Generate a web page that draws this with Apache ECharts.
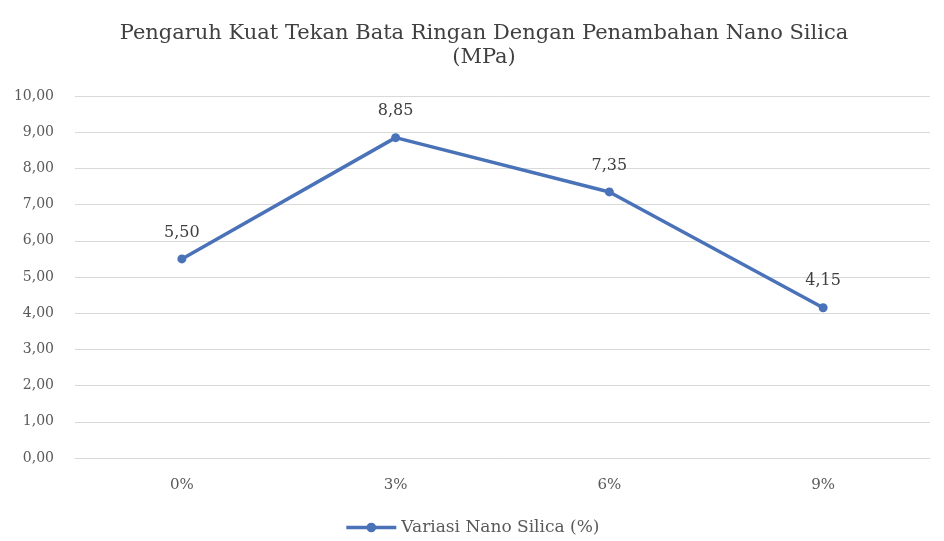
<!DOCTYPE html>
<html><head><meta charset="utf-8">
<script src="https://cdn.jsdelivr.net/npm/echarts@6/dist/echarts.min.js"></script>
<style>html,body{margin:0;padding:0;background:#fff}#c{width:944px;height:541px}</style>
</head><body><div id="c"></div>
<script>
const categories = ['0%', '3%', '6%', '9%'];
const values = [5.50, 8.85, 7.35, 4.15];
const seriesName = 'Variasi Nano Silica (%)';
const titleText = 'Pengaruh Kuat Tekan Bata Ringan Dengan Penambahan Nano Silica\n(MPa)';
const fmt = v => Number(v).toFixed(2).replace('.', ',');
const font = 'DejaVu Serif';
const chart = echarts.init(document.getElementById('c'));
chart.setOption({
  animation: false,
  title: {
    text: titleText, left: 479, textAlign: 'center', top: 17,
    textStyle: { fontFamily: font, fontSize: 21, fontWeight: 'normal', color: '#404040', lineHeight: 24 }
  },
  legend: {
    bottom: 0, left: 'center', itemWidth: 50, itemHeight: 12, itemGap: 6,
    padding: [5, 5, 5, 17],
    textStyle: { fontFamily: font, fontSize: 17, color: '#595959' },
    lineStyle: { width: 3.5 },
    data: [seriesName]
  },
  grid: { left: 75, right: 14, top: 96, bottom: 83 },
  xAxis: {
    type: 'category', data: categories, boundaryGap: true,
    axisLine: { lineStyle: { color: '#d9d9d9' } },
    axisTick: { show: false },
    axisLabel: { fontFamily: font, fontSize: 15, color: '#595959', margin: 20 }
  },
  yAxis: {
    type: 'value', min: 0, max: 10, interval: 1,
    axisLine: { show: false }, axisTick: { show: false },
    axisLabel: { fontFamily: font, fontSize: 14, color: '#595959', formatter: fmt, margin: 21 },
    splitLine: { lineStyle: { color: '#d9d9d9', width: 1 } }
  },
  series: [{
    name: seriesName, type: 'line', data: values,
    symbol: 'circle', symbolSize: 9,
    lineStyle: { color: '#4a72b8', width: 3.5 },
    itemStyle: { color: '#4a72b8' },
    label: { show: true, position: 'top', distance: 14, formatter: p => fmt(p.value),
      fontFamily: font, fontSize: 16, color: '#404040' }
  }]
});
</script></body></html>
